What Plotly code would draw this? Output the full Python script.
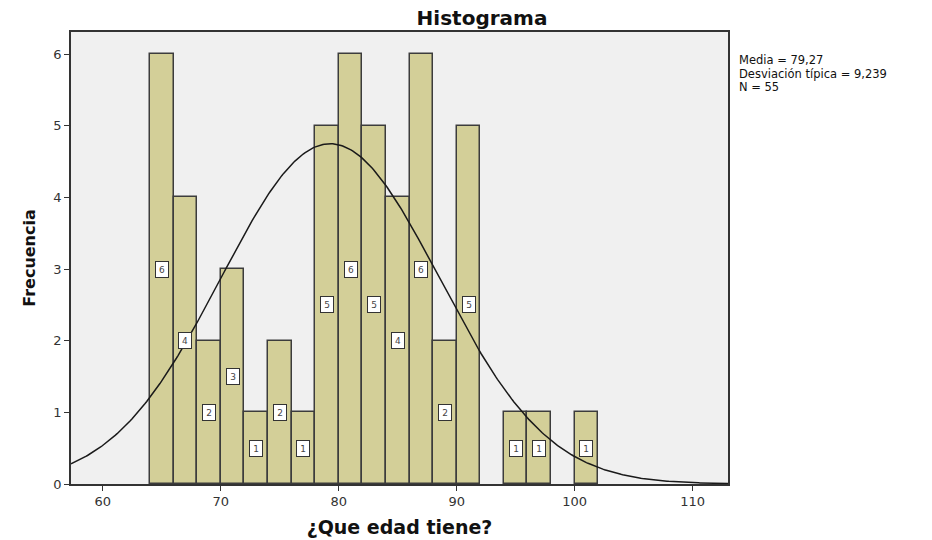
import numpy as np
import plotly.graph_objects as go

# Histogram data (bins of width 2 from 64 to 102)
bin_starts = [64, 66, 68, 70, 72, 74, 76, 78, 80, 82, 84, 86, 88, 90, 92, 94, 96, 98, 100]
counts = [6, 4, 2, 3, 1, 2, 1, 5, 6, 5, 4, 6, 2, 5, 0, 1, 1, 0, 1]
bin_width = 2
mean_val = 79.27
sd_val = 9.239
n_val = 55

x_ticks = [60, 70, 80, 90, 100, 110]
y_ticks = [0, 1, 2, 3, 4, 5, 6]
stats_lines = ["Media = 79,27", "Desviación típica = 9,239", "N = 55"]

centers = [b + bin_width / 2 for b in bin_starts]
bx = [c for c, k in zip(centers, counts) if k > 0]
by = [k for k in counts if k > 0]

xr = [57.3, 113.0]
xs = np.linspace(xr[0], xr[1], 400)
ys = n_val * bin_width / (sd_val * np.sqrt(2 * np.pi)) * np.exp(-0.5 * ((xs - mean_val) / sd_val) ** 2)

W, H = 932, 540
plot_l, plot_r, plot_t, plot_b = 71, 728, 32, 484
pw, ph = plot_r - plot_l, plot_b - plot_t

def px_x(x):
    return (x - plot_l) / pw

def px_y(y):
    return (plot_b - y) / ph

FONT = "DejaVu Sans, Liberation Sans, Arial, sans-serif"

fig = go.Figure()
fig.add_trace(go.Bar(
    x=bx, y=by, width=bin_width,
    marker=dict(color="#d3cf98", line=dict(color="#3c3c3c", width=1.5)),
    hoverinfo="x+y", showlegend=False,
))
fig.add_trace(go.Scatter(
    x=xs, y=ys, mode="lines",
    line=dict(color="#1a1a1a", width=1.5),
    showlegend=False, hoverinfo="skip",
))

annotations = []
for c, k in zip(bx, by):
    annotations.append(dict(
        x=c, y=k / 2, xref="x", yref="y", text=str(k), showarrow=False,
        font=dict(size=9, color="#444444", family=FONT),
        bgcolor="white", bordercolor="#333333", borderwidth=1, borderpad=1,
        width=10, height=13,
    ))

for i, line in enumerate(stats_lines):
    annotations.append(dict(
        x=px_x(737), y=px_y(60 + 13.5 * i), xref="paper", yref="paper", showarrow=False,
        text=line, align="left", xanchor="left", yanchor="middle",
        font=dict(size=11.5, color="#111111", family=FONT),
    ))

fig.update_layout(
    width=W, height=H,
    margin=dict(l=plot_l, r=W - plot_r, t=plot_t, b=H - plot_b, autoexpand=False),
    paper_bgcolor="white", plot_bgcolor="#f0f0f0",
    bargap=0,
    title=dict(text="<b>Histograma</b>", x=482 / W, xref="container", y=1 - 18 / H, yref="container",
               xanchor="center", yanchor="middle",
               font=dict(size=20, color="#111111", family=FONT)),
    xaxis=dict(
        range=xr, tickvals=x_ticks, ticktext=[str(t) for t in x_ticks],
        ticks="outside", ticklen=5, tickcolor="#333333", tickwidth=1,
        showgrid=False, zeroline=False, showline=True, linecolor="#333333", linewidth=1.5,
        mirror=True, automargin=False,
        tickfont=dict(size=13, color="#333333", family=FONT),
        title=dict(text="<b>¿Que edad tiene?</b>", standoff=12,
                   font=dict(size=19, color="#111111", family=FONT)),
    ),
    yaxis=dict(
        range=[0, 6.31], tickvals=y_ticks, ticktext=[str(t) for t in y_ticks],
        ticks="outside", ticklen=5, tickcolor="#333333", tickwidth=1,
        showgrid=False, zeroline=False, showline=True, linecolor="#333333", linewidth=1.5,
        mirror=True, automargin=False,
        tickfont=dict(size=13, color="#333333", family=FONT),
        title=dict(text="<b>Frecuencia</b>", standoff=14,
                   font=dict(size=16, color="#111111", family=FONT)),
    ),
    annotations=annotations,
)

fig.write_html("out.html", config={"displayModeBar": False},
               post_script="document.body.style.margin='0';")
